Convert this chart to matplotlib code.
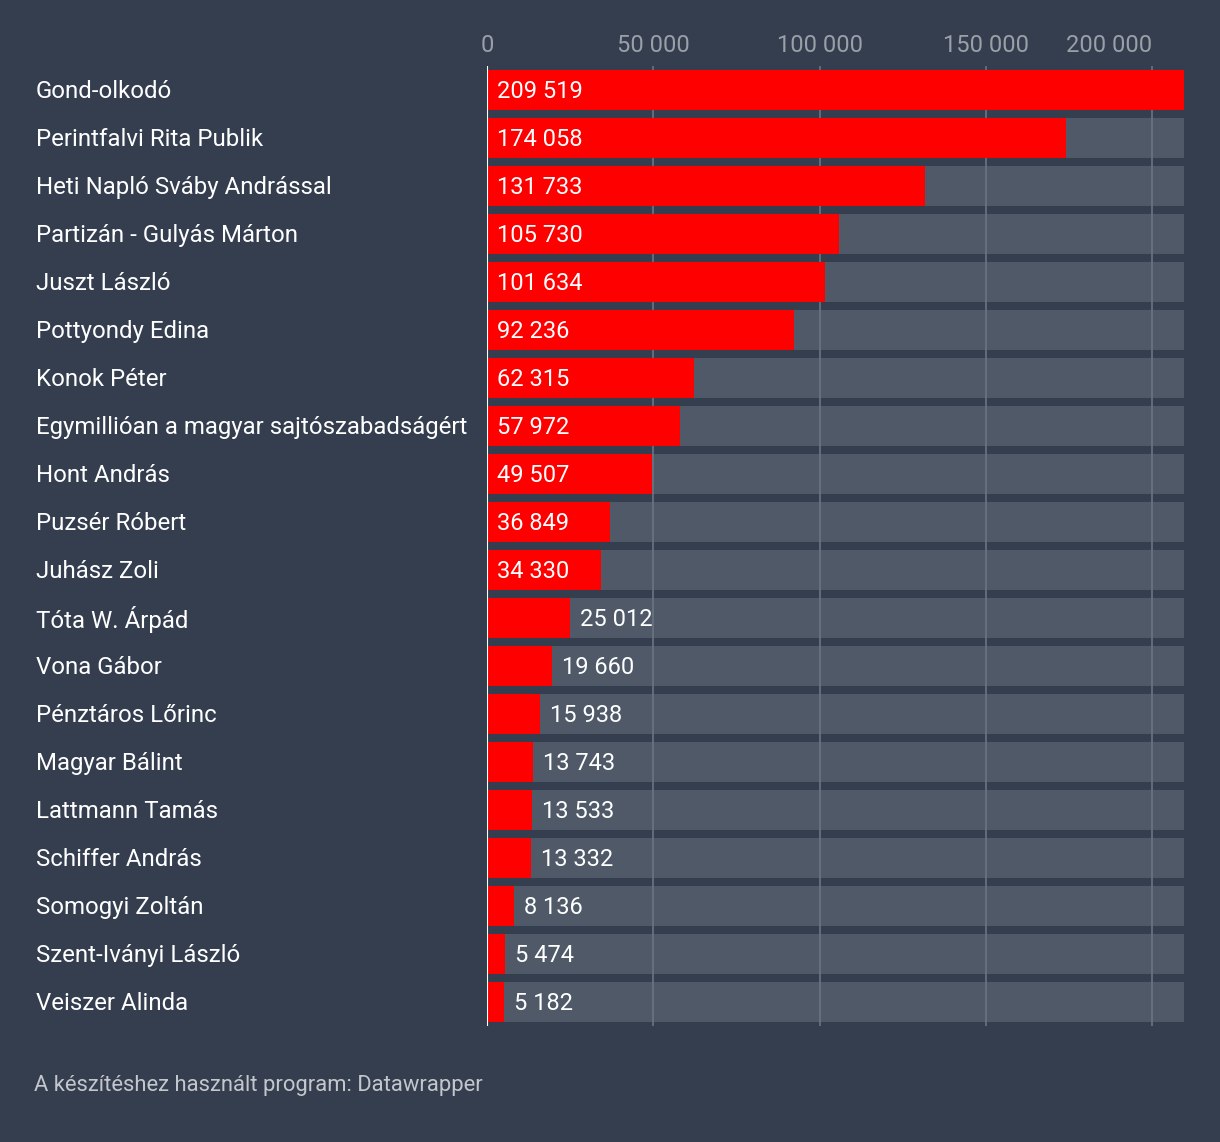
import numpy as np
import matplotlib.pyplot as plt
import matplotlib.transforms as mtransforms

names = ["Gond-olkodó", "Perintfalvi Rita Publik", "Heti Napló Sváby Andrással",
         "Partizán - Gulyás Márton", "Juszt László", "Pottyondy Edina", "Konok Péter",
         "Egymillióan a magyar sajtószabadságért", "Hont András", "Puzsér Róbert",
         "Juhász Zoli", "Tóta W. Árpád", "Vona Gábor", "Pénztáros Lőrinc",
         "Magyar Bálint", "Lattmann Tamás", "Schiffer András", "Somogyi Zoltán",
         "Szent-Iványi László", "Veiszer Alinda"]
values = [209519, 174058, 131733, 105730, 101634, 92236, 62315, 57972, 49507, 36849,
          34330, 25012, 19660, 15938, 13743, 13533, 13332, 8136, 5474, 5182]
ticks = [0, 50000, 100000, 150000, 200000]

bg = "#343e4f"
grey = "#4f5968"
red = "#ff0000"

plt.rcParams["font.family"] = ["Roboto", "DejaVu Sans"]

fig = plt.figure(figsize=(12.2, 11.42), dpi=100, facecolor=bg)
W, H = 1220, 1142
ax = fig.add_axes([487 / W, 1 - 1026 / H, (1184 - 487) / W, (1026 - 66) / H])
ax.set_facecolor(bg)

n = len(values)
y = np.arange(n)
vmax = max(values)
h = 40 / 48

# grey full-length background bars, grid, then the red bars on top
ax.barh(y, [vmax] * n, height=h, color=grey, zorder=1)
for t in ticks[1:]:
    ax.axvline(t, color="#6b7482", lw=1.2, zorder=2)
ax.barh(y, values, height=h, color=red, zorder=3)
ax.axvline(0, color="white", lw=1.5, zorder=5)

fmt = lambda v: f"{v:,}".replace(",", " ")
px = vmax / (1184 - 487)
lab_tr = mtransforms.blended_transform_factory(fig.transFigure, ax.transData)
for i, v in enumerate(values):
    yy = i + 0.03
    x0 = 10 * px if v > 30000 else v + 10 * px
    ax.text(x0, yy, fmt(v), va="center", ha="left", color="white", fontsize=17, zorder=4)
    fig.text(36 / W, yy, names[i], transform=lab_tr, color="white",
             fontsize=17.3, va="center", ha="left")

ax.set_xlim(0, vmax)
ax.set_ylim(n - 0.5, -0.5)
ax.set_yticks([])
ax.xaxis.tick_top()
ax.set_xticks(ticks)
ax.set_xticklabels([fmt(t) for t in ticks], color="#9aa0a8", fontsize=17)
ax.tick_params(axis="x", length=0, pad=6.5)
ax.get_xticklabels()[-1].set_ha("right")
for s in ax.spines.values():
    s.set_visible(False)

fig.text(34 / W, 1 - 1085 / H, "A készítéshez használt program: Datawrapper",
         color="#c3c7cd", fontsize=15.8, va="center", ha="left")

fig.savefig("out.png", dpi=100, facecolor=bg)
